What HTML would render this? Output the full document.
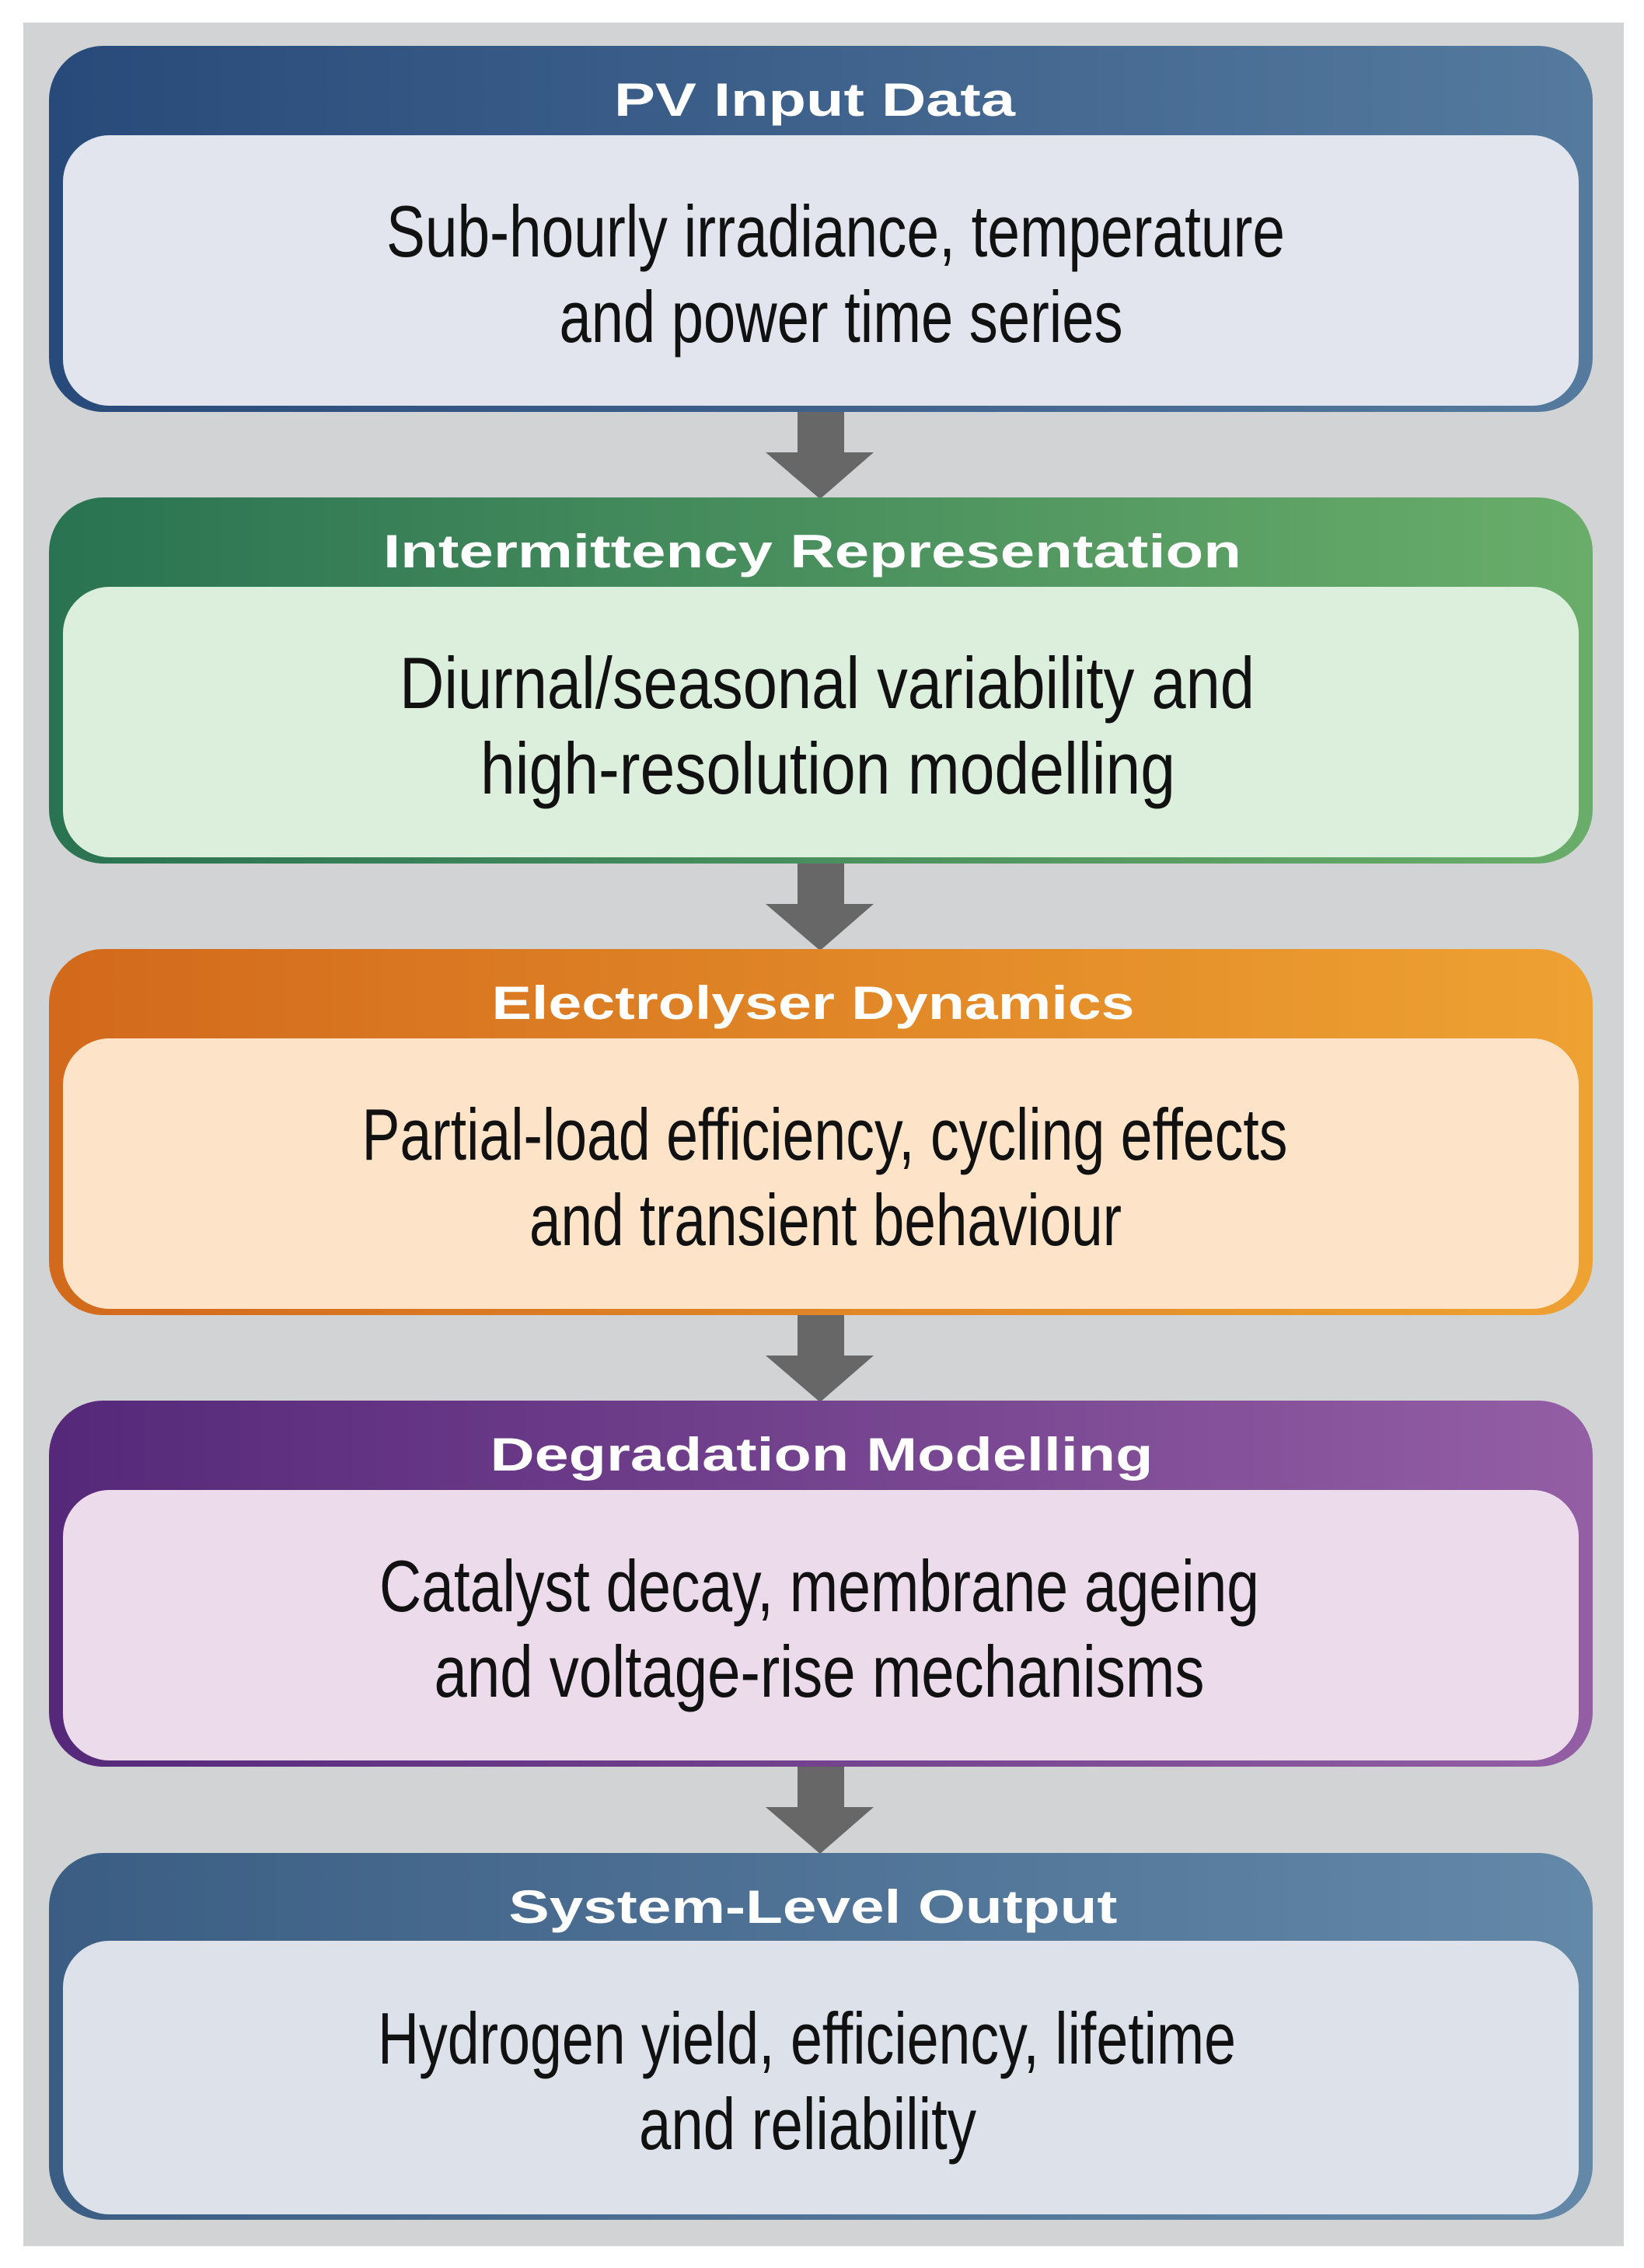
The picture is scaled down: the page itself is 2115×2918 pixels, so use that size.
<!DOCTYPE html>
<html><head><meta charset="utf-8"><style>html,body{margin:0;padding:0;background:#fff}svg{display:block}</style></head>
<body>
<svg width="2115" height="2918" viewBox="0 0 2115 2918" xmlns="http://www.w3.org/2000/svg">
<defs>
<linearGradient id="g1" x1="0" x2="1"><stop offset="0" stop-color="#284a7a"/><stop offset="1" stop-color="#557a9e"/></linearGradient>
<linearGradient id="g2" x1="0" x2="1"><stop offset="0" stop-color="#2a7352"/><stop offset="1" stop-color="#6aad6a"/></linearGradient>
<linearGradient id="g3" x1="0" x2="1"><stop offset="0" stop-color="#d2691c"/><stop offset="1" stop-color="#eea232"/></linearGradient>
<linearGradient id="g4" x1="0" x2="1"><stop offset="0" stop-color="#552879"/><stop offset="1" stop-color="#935ea4"/></linearGradient>
<linearGradient id="g5" x1="0" x2="1"><stop offset="0" stop-color="#3b5d83"/><stop offset="1" stop-color="#6388a8"/></linearGradient>
</defs>
<rect x="30" y="29" width="2059" height="2861" fill="#d2d3d4"/>
<g font-family="Liberation Sans, sans-serif" text-anchor="middle">
<!-- arrows -->
<g fill="#676767">
<rect x="1026" y="528" width="60" height="56"/><polygon points="985,582 1124,582 1055,642"/>
<rect x="1026" y="1109" width="60" height="56"/><polygon points="985,1163 1124,1163 1055,1223"/>
<rect x="1026" y="1690" width="60" height="56"/><polygon points="985,1744 1124,1744 1055,1804"/>
<rect x="1026" y="2271" width="60" height="56"/><polygon points="985,2325 1124,2325 1055,2385"/>
</g>
<!-- box1 -->
<rect x="63" y="59" width="1986" height="471" rx="70" fill="url(#g1)"/>
<rect x="81" y="174" width="1950" height="348" rx="60" fill="#e2e5ed"/>
<text x="1048" y="149" font-size="60" font-weight="bold" fill="#fff" textLength="516" lengthAdjust="spacingAndGlyphs">PV Input Data</text>
<text x="1075" y="330" font-size="94" fill="#111" textLength="1156" lengthAdjust="spacingAndGlyphs">Sub-hourly irradiance, temperature</text>
<text x="1082" y="440" font-size="94" fill="#111" textLength="725" lengthAdjust="spacingAndGlyphs">and power time series</text>
<!-- box2 -->
<rect x="63" y="640" width="1986" height="471" rx="70" fill="url(#g2)"/>
<rect x="81" y="755" width="1950" height="348" rx="60" fill="#dcefdc"/>
<text x="1045" y="730" font-size="60" font-weight="bold" fill="#fff" textLength="1104" lengthAdjust="spacingAndGlyphs">Intermittency Representation</text>
<text x="1064" y="911" font-size="94" fill="#111" textLength="1100" lengthAdjust="spacingAndGlyphs">Diurnal/seasonal variability and</text>
<text x="1065" y="1021" font-size="94" fill="#111" textLength="894" lengthAdjust="spacingAndGlyphs">high-resolution modelling</text>
<!-- box3 -->
<rect x="63" y="1221" width="1986" height="471" rx="70" fill="url(#g3)"/>
<rect x="81" y="1336" width="1950" height="348" rx="60" fill="#fde4c8"/>
<text x="1046" y="1311" font-size="60" font-weight="bold" fill="#fff" textLength="827" lengthAdjust="spacingAndGlyphs">Electrolyser Dynamics</text>
<text x="1061" y="1492" font-size="94" fill="#111" textLength="1191" lengthAdjust="spacingAndGlyphs">Partial-load efficiency, cycling effects</text>
<text x="1062" y="1602" font-size="94" fill="#111" textLength="762" lengthAdjust="spacingAndGlyphs">and transient behaviour</text>
<!-- box4 -->
<rect x="63" y="1802" width="1986" height="471" rx="70" fill="url(#g4)"/>
<rect x="81" y="1917" width="1950" height="348" rx="60" fill="#ebdbeb"/>
<text x="1057" y="1892" font-size="60" font-weight="bold" fill="#fff" textLength="853" lengthAdjust="spacingAndGlyphs">Degradation Modelling</text>
<text x="1054" y="2073" font-size="94" fill="#111" textLength="1132" lengthAdjust="spacingAndGlyphs">Catalyst decay, membrane ageing</text>
<text x="1054" y="2183" font-size="94" fill="#111" textLength="991" lengthAdjust="spacingAndGlyphs">and voltage-rise mechanisms</text>
<!-- box5 -->
<rect x="63" y="2384" width="1986" height="472" rx="70" fill="url(#g5)"/>
<rect x="81" y="2497" width="1950" height="352" rx="60" fill="#dde2ea"/>
<text x="1046" y="2474" font-size="60" font-weight="bold" fill="#fff" textLength="783" lengthAdjust="spacingAndGlyphs">System-Level Output</text>
<text x="1038" y="2655" font-size="94" fill="#111" textLength="1104" lengthAdjust="spacingAndGlyphs">Hydrogen yield, efficiency, lifetime</text>
<text x="1039" y="2765" font-size="94" fill="#111" textLength="434" lengthAdjust="spacingAndGlyphs">and reliability</text>
</g>
</svg>
</body></html>
